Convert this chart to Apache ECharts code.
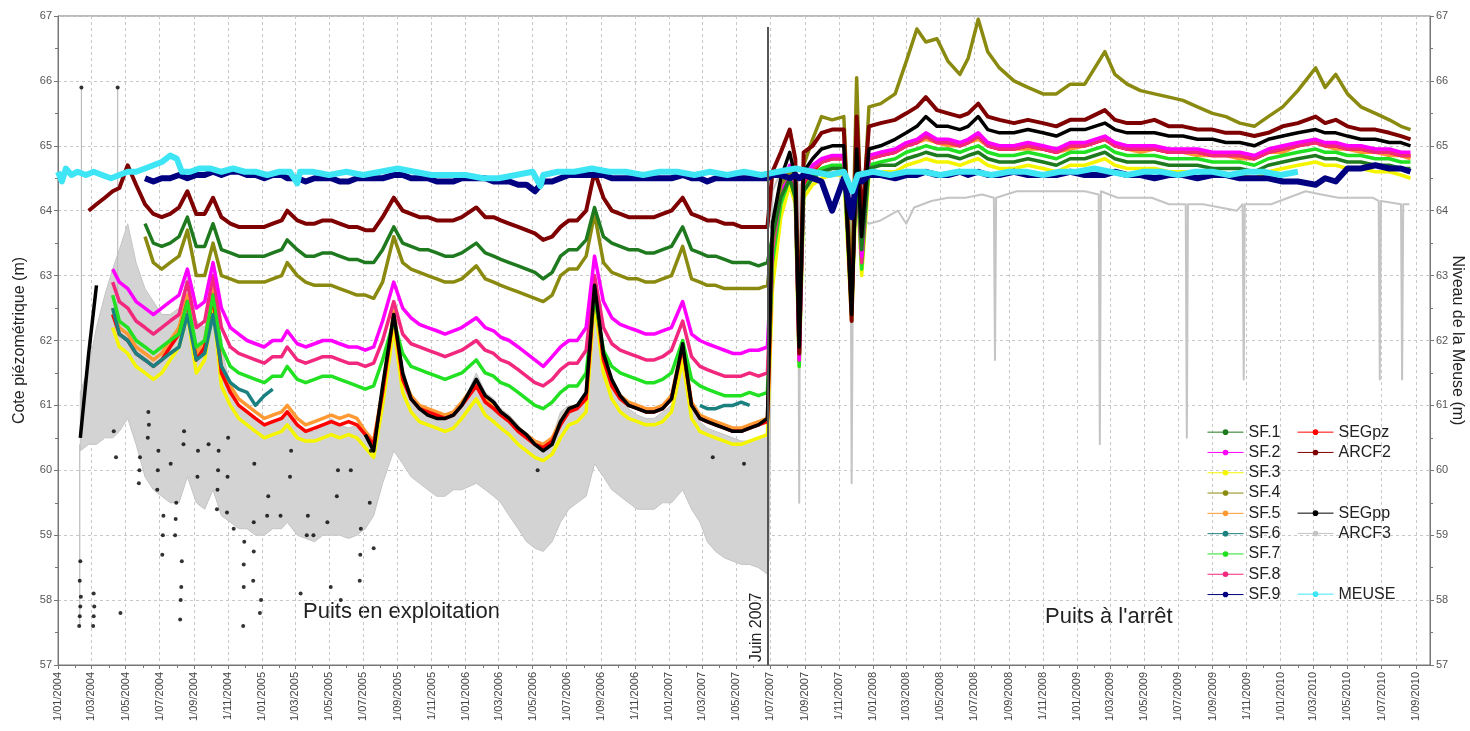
<!DOCTYPE html>
<html><head><meta charset="utf-8">
<script src="https://cdn.jsdelivr.net/npm/echarts@6/dist/echarts.min.js"></script>
<style>html,body{margin:0;padding:0;background:#fff}#chart{width:1470px;height:731px}</style>
</head><body><div id="chart"></div>
<script>
// ---------------- DATA ----------------
const X_START = '2004-01-01', X_END = '2010-09-26';
const Y_MIN = 57, Y_MAX = 67;
const JUNE_2007 = '2007-06-26', JUNE_LINE_TOP = 66.83;
const LEGEND_COL1 = ['SF.1','SF.2','SF.3','SF.4','SF.5','SF.6','SF.7','SF.8','SF.9'];
const LEGEND_COL2A = ['SEGpz','ARCF2'], LEGEND_COL2B = ['SEGpp','ARCF3'], LEGEND_COL2C = ['MEUSE'];
const TEXT_LEFT = 'Puits en exploitation', TEXT_RIGHT = "Puits à l'arrêt", LINE_LABEL = 'Juin 2007';

const P1_DATES = ['2004-02-10','2004-02-25','2004-03-10','2004-03-25','2004-04-08','2004-04-20','2004-05-05','2004-05-20','2004-06-05','2004-06-20',
'2004-07-05','2004-07-20','2004-08-05','2004-08-20','2004-09-05','2004-09-20','2004-10-05','2004-10-20','2004-11-05','2004-11-20',
'2004-12-05','2004-12-20','2005-01-05','2005-01-20','2005-02-05','2005-02-15','2005-03-05','2005-03-20','2005-04-05','2005-04-20',
'2005-05-05','2005-05-20','2005-06-05','2005-06-20','2005-07-05','2005-07-20','2005-08-05','2005-08-25','2005-09-10','2005-09-25',
'2005-10-10','2005-10-25','2005-11-10','2005-11-25','2005-12-10','2005-12-25','2006-01-20','2006-02-05','2006-02-20','2006-03-05',
'2006-03-20','2006-04-05','2006-04-20','2006-05-05','2006-05-20','2006-06-05','2006-06-20','2006-07-05','2006-07-20','2006-08-05',
'2006-08-20','2006-09-05','2006-09-20','2006-10-05','2006-10-20','2006-11-05','2006-11-20','2006-12-05','2006-12-20','2007-01-05',
'2007-01-25','2007-02-10','2007-02-25','2007-03-10','2007-03-25','2007-04-10','2007-04-25','2007-05-10','2007-05-25','2007-06-10','2007-06-26'];

const P2_DATES = ['2007-06-28','2007-07-05','2007-07-20','2007-08-05','2007-08-15','2007-08-22','2007-08-30','2007-09-15','2007-10-01','2007-10-20',
'2007-11-10','2007-11-24','2007-12-03','2007-12-12','2007-12-25','2008-01-15','2008-02-10','2008-03-01','2008-03-20','2008-04-05',
'2008-04-25','2008-05-15','2008-06-05','2008-06-20','2008-07-08','2008-07-25','2008-08-15','2008-09-10','2008-10-05','2008-11-01',
'2008-11-25','2008-12-20','2009-01-15','2009-02-20','2009-03-10','2009-04-01','2009-04-25','2009-05-20','2009-06-15','2009-07-10',
'2009-08-05','2009-09-01','2009-09-25','2009-10-20','2009-11-15','2009-12-10','2010-01-05','2010-02-01','2010-03-05','2010-03-22',
'2010-04-10','2010-05-01','2010-05-25','2010-06-20','2010-07-15','2010-08-05','2010-08-22'];

const SF1_P1 = [null,null,null,null,null,null,null,null,63.8,63.5,
63.45,63.5,63.6,63.9,63.45,63.45,63.8,63.4,63.35,63.3,
63.3,63.3,63.3,63.35,63.4,63.55,63.4,63.3,63.3,63.35,
63.35,63.3,63.25,63.25,63.2,63.2,63.4,63.75,63.5,63.45,
63.4,63.4,63.35,63.3,63.3,63.35,63.5,63.35,63.3,63.25,
63.2,63.15,63.1,63.05,62.95,63.05,63.3,63.4,63.4,63.55,
64.05,63.6,63.5,63.45,63.4,63.4,63.35,63.35,63.4,63.45,
63.75,63.4,63.35,63.3,63.3,63.25,63.2,63.2,63.2,63.15,63.2];
const SF1_P2 = [63.2,63.6,64.2,64.5,64.2,62.0,64.3,64.5,64.6,64.65,
64.65,62.7,64.65,63.4,64.65,64.7,64.7,64.8,64.85,64.9,
64.85,64.85,64.8,64.85,64.9,64.8,64.75,64.75,64.8,64.75,
64.7,64.8,64.8,64.9,64.8,64.75,64.75,64.75,64.7,64.7,
64.7,64.65,64.65,64.65,64.6,64.7,64.75,64.8,64.85,64.8,
64.8,64.75,64.75,64.7,64.7,64.65,64.65];

const SF2_P1 = [null,null,null,null,63.1,62.9,62.8,62.6,62.5,62.4,
62.5,62.6,62.7,63.1,62.5,62.6,63.2,62.5,62.2,62.1,
62.0,61.95,61.9,62.0,62.0,62.15,61.95,61.9,61.95,62.0,
62.0,61.95,61.9,61.9,61.85,61.9,62.3,62.9,62.5,62.35,
62.25,62.2,62.15,62.1,62.15,62.2,62.35,62.2,62.15,62.05,
62.0,61.9,61.8,61.7,61.6,61.75,61.9,62.0,62.0,62.2,
63.3,62.6,62.35,62.25,62.2,62.15,62.1,62.1,62.15,62.2,
62.6,62.1,62.0,61.95,61.9,61.85,61.8,61.8,61.85,61.85,61.9];
const SF2_P2 = [61.9,63.5,64.3,64.7,64.4,61.7,64.5,64.7,64.8,64.85,
64.85,62.6,64.85,63.3,64.85,64.9,64.95,65.05,65.1,65.2,
65.1,65.1,65.05,65.1,65.2,65.05,65.0,65.0,65.05,65.0,
64.95,65.05,65.05,65.15,65.05,65.0,65.0,65.0,64.95,64.95,
64.95,64.9,64.9,64.9,64.85,64.95,65.0,65.05,65.1,65.05,
65.05,65.0,65.0,64.95,64.95,64.9,64.9];

const SF3_P1 = [null,null,null,null,62.2,61.9,61.8,61.6,61.5,61.4,
61.5,61.7,61.9,62.4,61.5,61.7,62.5,61.3,61.0,60.8,
60.7,60.6,60.5,60.55,60.6,60.7,60.5,60.45,60.45,60.5,
60.55,60.5,60.55,60.5,60.35,60.2,61.0,62.2,61.2,60.9,
60.75,60.7,60.65,60.6,60.65,60.8,61.1,60.85,60.75,60.65,
60.55,60.4,60.3,60.2,60.15,60.25,60.5,60.7,60.75,60.9,
62.6,61.5,61.1,60.9,60.8,60.75,60.7,60.7,60.75,60.9,
61.7,60.8,60.6,60.55,60.5,60.45,60.4,60.4,60.45,60.5,60.55];
const SF3_P2 = [60.55,62.8,63.9,64.4,64.1,61.6,64.2,64.4,64.5,64.55,
64.55,62.3,64.55,63.0,64.55,64.6,64.6,64.7,64.75,64.8,
64.75,64.75,64.7,64.75,64.8,64.7,64.65,64.65,64.7,64.65,
64.6,64.7,64.7,64.8,64.7,64.65,64.65,64.65,64.6,64.6,
64.6,64.55,64.55,64.55,64.5,64.6,64.65,64.7,64.75,64.7,
64.7,64.65,64.65,64.6,64.6,64.55,64.5];

const SF4_P1 = [null,null,null,null,null,null,null,null,63.6,63.2,
63.1,63.2,63.3,63.7,63.0,63.0,63.5,63.0,62.95,62.9,
62.9,62.9,62.9,62.95,63.0,63.2,63.0,62.9,62.85,62.85,
62.85,62.8,62.75,62.7,62.7,62.65,62.9,63.6,63.2,63.1,
63.05,63.0,62.95,62.9,62.9,62.95,63.15,62.95,62.9,62.85,
62.8,62.75,62.7,62.65,62.6,62.7,63.0,63.1,63.1,63.3,
63.95,63.2,63.05,63.0,62.95,62.95,62.9,62.9,62.95,63.0,
63.45,62.95,62.9,62.85,62.85,62.8,62.8,62.8,62.8,62.8,62.85];
const SF4_P2 = [62.85,63.5,64.4,64.6,64.5,62.5,64.7,65.1,65.45,65.4,
65.45,62.8,66.05,63.5,65.6,65.65,65.8,66.3,66.8,66.6,
66.65,66.3,66.1,66.35,66.95,66.45,66.2,66.0,65.9,65.8,
65.8,65.95,65.95,66.45,66.1,65.95,65.85,65.8,65.75,65.7,
65.6,65.5,65.45,65.35,65.3,65.45,65.6,65.85,66.2,65.9,
66.1,65.8,65.6,65.5,65.4,65.3,65.25];

const SF5_P1 = [null,null,null,null,62.5,62.2,62.1,61.9,61.8,61.7,
61.8,62.0,62.2,62.7,61.8,62.0,62.8,61.6,61.3,61.1,
61.0,60.9,60.8,60.85,60.9,61.0,60.8,60.7,60.75,60.8,
60.85,60.8,60.85,60.8,60.6,60.45,61.25,62.45,61.45,61.15,
61.0,60.95,60.9,60.85,60.9,61.05,61.35,61.1,61.0,60.9,
60.8,60.65,60.55,60.45,60.4,60.5,60.75,60.95,61.0,61.15,
62.85,61.75,61.35,61.15,61.05,61.0,60.95,60.95,61.0,61.15,
61.95,61.05,60.85,60.8,60.75,60.7,60.65,60.65,60.7,60.75,60.8];
const SF5_P2 = [60.8,63.3,64.2,64.6,64.3,61.8,64.45,64.6,64.75,64.8,
64.85,62.5,64.8,63.3,64.8,64.85,64.9,65.0,65.05,65.1,
65.05,65.0,65.0,65.05,65.1,65.0,64.95,64.95,64.95,64.95,
64.9,64.95,65.0,65.1,65.0,64.95,64.9,64.95,64.9,64.9,
64.85,64.85,64.85,64.8,64.8,64.9,64.9,65.0,65.05,65.0,
64.95,64.95,64.9,64.9,64.85,64.85,64.8];

const SF6_P1 = [null,null,null,null,62.5,62.1,62.0,61.8,61.7,61.6,
61.7,61.8,61.9,62.4,61.7,61.8,62.4,61.6,61.35,61.25,
61.2,61.0,61.15,61.25,null,null,null,null,null,null,
null,null,null,null,null,null,null,null,null,null,
null,null,null,null,null,null,null,null,null,null,
null,null,null,null,null,null,null,null,null,null,
null,null,null,null,null,null,null,null,null,null,
null,null,61.0,60.95,60.95,61.0,61.0,61.05,61.0,null,null];

const SF7_P1 = [null,null,null,null,62.7,62.3,62.2,62.0,61.9,61.8,
61.9,62.0,62.1,62.6,61.9,62.0,62.7,61.9,61.6,61.5,
61.45,61.4,61.35,61.45,61.45,61.6,61.4,61.35,61.4,61.45,
61.45,61.4,61.35,61.3,61.25,61.3,61.7,62.3,61.8,61.6,
61.55,61.5,61.45,61.4,61.45,61.5,61.7,61.5,61.45,61.35,
61.3,61.2,61.1,61.0,60.95,61.05,61.2,61.3,61.3,61.5,
62.7,61.85,61.6,61.5,61.45,61.4,61.35,61.35,61.4,61.5,
62.0,61.4,61.3,61.25,61.2,61.15,61.15,61.15,61.2,61.15,61.2];
const SF7_P2 = [61.2,63.2,64.1,64.5,64.2,61.6,64.3,64.55,64.65,64.7,
64.7,62.4,64.7,63.1,64.7,64.75,64.8,64.9,64.95,65.0,
64.95,64.95,64.9,64.95,65.0,64.9,64.85,64.85,64.9,64.85,
64.8,64.9,64.9,65.0,64.9,64.85,64.85,64.85,64.8,64.8,
64.8,64.75,64.75,64.75,64.7,64.8,64.85,64.9,64.95,64.9,
64.9,64.85,64.85,64.8,64.8,64.75,64.75];

const SF8_P1 = [null,null,null,null,62.9,62.6,62.5,62.3,62.2,62.1,
62.2,62.3,62.4,62.9,62.2,62.3,63.0,62.2,61.9,61.8,
61.75,61.7,61.65,61.75,61.75,61.9,61.7,61.65,61.7,61.75,
61.75,61.7,61.65,61.65,61.6,61.65,62.0,62.6,62.1,61.95,
61.9,61.85,61.8,61.75,61.8,61.85,62.0,61.85,61.8,61.7,
61.65,61.55,61.45,61.35,61.3,61.4,61.55,61.65,61.65,61.85,
63.0,62.2,61.95,61.85,61.8,61.75,61.7,61.7,61.75,61.85,
62.3,61.75,61.6,61.55,61.5,61.45,61.45,61.45,61.5,61.45,61.5];
const SF8_P2 = [61.5,63.4,64.25,64.65,64.35,61.7,64.45,64.65,64.75,64.8,
64.8,62.5,64.8,63.2,64.8,64.85,64.9,65.0,65.05,65.15,
65.05,65.05,65.0,65.05,65.15,65.0,64.95,64.95,65.0,64.95,
64.9,65.0,65.0,65.1,65.0,64.95,64.95,64.95,64.9,64.9,
64.9,64.85,64.85,64.85,64.8,64.9,64.95,65.0,65.05,65.0,
65.0,64.95,64.95,64.9,64.9,64.85,64.85];

const SF9_P1 = [null,null,null,null,null,null,null,null,64.5,64.45,
64.5,64.5,64.55,64.5,64.55,64.55,64.6,64.55,64.6,64.6,
64.55,64.55,64.5,64.55,64.55,64.5,64.5,64.45,64.5,64.5,
64.5,64.45,64.45,64.5,64.5,64.5,64.5,64.55,64.55,64.5,
64.5,64.5,64.45,64.45,64.45,64.5,64.5,64.5,64.45,64.45,
64.45,64.4,64.4,64.3,64.45,64.45,64.5,64.55,64.55,64.55,
64.55,64.55,64.5,64.5,64.5,64.5,64.5,64.5,64.5,64.5,
64.55,64.5,64.5,64.45,64.5,64.5,64.5,64.5,64.5,64.5,64.5];
const SF9_P2 = [64.5,64.55,64.55,64.5,64.55,64.5,64.55,64.5,64.45,64.0,
64.5,63.9,64.5,64.45,64.55,64.55,64.5,64.55,64.55,64.6,
64.55,64.55,64.6,64.55,64.6,64.55,64.55,64.6,64.55,64.55,
64.55,64.6,64.55,64.55,64.6,64.55,64.55,64.5,64.55,64.55,
64.5,64.55,64.55,64.5,64.5,64.5,64.45,64.45,64.4,64.5,
64.45,64.65,64.65,64.7,64.65,64.65,64.6];

const SEGPZ_P1 = [60.7,null,null,null,62.4,62.1,62.0,61.8,61.7,61.6,
61.7,61.9,62.1,62.6,61.7,61.9,62.7,61.5,61.2,61.0,
60.9,60.8,60.7,60.75,60.8,60.9,60.7,60.6,60.65,60.7,
60.75,60.7,60.75,60.7,60.55,60.4,61.2,62.4,61.4,61.1,
60.95,60.9,60.85,60.8,60.85,61.0,61.3,61.05,60.95,60.85,
60.75,60.6,60.5,60.4,60.35,60.45,60.7,60.9,60.95,61.1,
62.8,61.7,61.3,61.1,61.0,60.95,60.9,60.9,60.95,61.1,
61.9,61.0,60.8,60.75,60.7,60.65,60.6,60.6,60.65,60.7,60.75];
const SEGPZ_P2 = [60.75,63.3,64.2,64.6,64.3,61.8,64.4,64.6,64.75,64.8,
64.8,62.5,64.8,63.3,64.8,64.85,64.9,65.0,65.05,65.15,
65.05,65.05,65.0,65.05,65.15,65.0,64.95,64.95,65.0,64.95,
64.9,65.0,65.0,65.1,65.0,64.95,64.95,64.95,64.9,64.9,
64.9,64.85,64.85,64.85,64.8,64.9,64.95,65.0,65.05,65.0,
65.0,64.95,64.95,64.9,64.9,64.85,64.85];

const ARCF2_P1 = [null,64.0,64.1,64.2,64.3,64.35,64.7,64.4,64.1,63.95,
63.9,63.95,64.05,64.3,63.95,63.95,64.2,63.9,63.8,63.75,
63.75,63.75,63.75,63.8,63.85,64.0,63.85,63.8,63.8,63.85,
63.85,63.8,63.75,63.75,63.7,63.7,63.9,64.2,64.0,63.95,
63.9,63.9,63.85,63.85,63.85,63.9,64.05,63.9,63.9,63.85,
63.8,63.75,63.7,63.65,63.55,63.6,63.75,63.85,63.85,64.0,
64.6,64.2,64.0,63.95,63.9,63.9,63.9,63.9,63.95,64.0,
64.2,63.95,63.9,63.85,63.85,63.8,63.8,63.75,63.75,63.75,63.75];
const ARCF2_P2 = [63.75,64.6,64.9,65.25,64.8,61.8,64.9,65.0,65.2,65.25,
65.25,62.3,65.45,63.8,65.3,65.35,65.4,65.5,65.6,65.75,
65.55,65.5,65.45,65.5,65.65,65.45,65.4,65.35,65.4,65.35,
65.3,65.4,65.4,65.55,65.4,65.35,65.35,65.4,65.3,65.3,
65.25,65.25,65.2,65.2,65.15,65.2,65.3,65.35,65.45,65.35,
65.4,65.3,65.25,65.25,65.2,65.15,65.1];

const SEGPP_P1 = [60.5,61.8,62.85,null,null,null,null,null,null,null,
null,null,null,null,null,null,null,null,null,null,
null,null,null,null,null,null,null,null,null,null,
null,null,null,null,60.55,60.3,61.3,62.4,61.5,61.1,
60.95,60.85,60.8,60.8,60.85,61.0,61.4,61.15,61.05,60.9,
60.8,60.65,60.55,60.4,60.3,60.4,60.75,60.95,61.0,61.2,
62.85,61.8,61.4,61.15,61.0,60.95,60.9,60.9,60.95,61.1,
61.95,61.0,60.8,60.75,60.7,60.65,60.6,60.6,60.65,60.7,60.8];
const SEGPP_P2 = [60.8,63.8,64.5,64.9,64.5,61.9,64.6,64.8,64.95,65.0,
65.0,62.4,64.95,63.6,64.95,65.0,65.1,65.2,65.3,65.45,
65.3,65.3,65.25,65.3,65.45,65.25,65.2,65.2,65.25,65.2,
65.15,65.25,65.25,65.35,65.25,65.2,65.2,65.2,65.15,65.15,
65.1,65.1,65.05,65.05,65.0,65.1,65.15,65.2,65.25,65.2,
65.2,65.15,65.1,65.1,65.05,65.05,65.0];
const SEGPP_DOTS = [['2004-02-08',57.6],['2004-02-09',57.75],['2004-02-10',57.9],['2004-02-11',58.05],['2004-02-09',58.3],['2004-02-10',58.6],['2004-02-12',65.9],
['2004-03-04',57.6],['2004-03-05',57.75],['2004-03-06',57.9],['2004-03-05',58.1],['2004-04-17',65.9],['2004-04-22',57.8],['2004-04-10',60.6],['2004-04-14',60.2],
['2004-05-25',59.8],['2004-05-26',60.0],['2004-05-27',60.2],['2004-06-10',60.5],['2004-06-11',60.9],['2004-06-12',60.7],['2004-06-27',59.7],['2004-06-28',60.0],['2004-06-29',60.3],
['2004-07-06',58.7],['2004-07-07',59.0],['2004-07-08',59.3],['2004-07-21',60.1],['2004-07-29',59.0],['2004-07-30',59.25],['2004-07-31',59.5],
['2004-08-07',57.7],['2004-08-08',58.0],['2004-08-09',58.2],['2004-08-10',58.6],['2004-08-13',60.4],['2004-08-14',60.6],
['2004-09-07',59.9],['2004-09-08',60.3],['2004-09-27',60.4],['2004-10-12',59.4],['2004-10-13',59.7],['2004-10-14',60.0],['2004-10-15',60.3],
['2004-10-30',59.35],['2004-10-31',59.9],['2004-11-01',60.5],['2004-11-11',59.1],['2004-11-28',57.6],['2004-11-29',58.2],['2004-11-30',58.9],['2004-11-29',58.55],
['2004-12-16',58.3],['2004-12-17',59.2],['2004-12-18',60.1],['2004-12-17',58.75],['2004-12-28',57.8],['2004-12-30',58.0],
['2005-01-10',59.3],['2005-01-12',59.6],['2005-02-03',59.3],['2005-02-20',59.9],['2005-02-22',60.3],['2005-03-11',58.1],
['2005-03-22',59.0],['2005-03-24',59.3],['2005-04-03',59.0],['2005-04-28',59.2],['2005-05-04',58.2],['2005-05-15',59.6],
['2005-05-17',60.0],['2005-05-22',58.0],['2005-06-09',60.0],['2005-06-25',58.3],['2005-06-27',59.1],['2005-06-26',58.7],['2005-07-13',59.5],
['2005-07-15',60.3],['2005-07-20',58.8],['2006-05-10',60.0],['2007-03-20',60.2],['2007-05-15',60.1]];

const ARCF3_HIGH_P1 = [61.2,61.6,62.2,62.7,63.1,63.4,63.8,63.2,62.8,62.6,
62.4,62.4,62.5,63.0,62.3,62.2,63.0,61.9,61.3,61.0,
60.9,60.8,60.7,60.75,60.8,60.9,60.7,60.6,60.6,60.7,
60.8,60.7,60.65,60.7,60.5,60.3,61.2,62.6,61.6,61.1,
60.95,60.85,60.8,60.8,60.9,61.0,61.5,61.2,61.1,60.95,
60.85,60.7,60.5,60.4,60.3,60.5,60.9,61.0,61.0,61.2,
62.8,61.7,61.3,61.1,60.95,60.85,60.8,60.8,60.9,61.0,
61.9,60.95,60.75,60.65,60.6,60.55,60.5,60.45,60.45,60.5,60.5];
const ARCF3_LOW_P1 = [60.3,60.4,60.4,60.5,60.5,60.6,60.8,60.4,59.9,59.7,
59.6,59.5,59.5,59.9,59.5,59.4,59.7,59.3,59.2,59.1,
59.1,59.0,59.0,59.1,59.1,59.2,59.0,58.95,58.9,59.0,
59.0,59.0,58.95,59.0,59.1,59.3,59.8,60.3,60.1,59.9,
59.8,59.7,59.6,59.6,59.7,59.7,59.8,59.7,59.6,59.5,
59.3,59.1,58.9,58.8,58.75,58.9,59.2,59.4,59.5,59.6,
60.1,59.9,59.7,59.6,59.5,59.4,59.4,59.4,59.5,59.5,
59.7,59.4,59.2,58.9,58.75,58.65,58.6,58.55,58.55,58.5,58.4];
const ARCF3_SPIKES_P1 = [['2004-02-09',60.4],['2004-02-09',57.6],['2004-02-10',null],['2004-02-12',61.0],['2004-02-12',65.9],['2004-02-13',null],
['2004-04-17',62.0],['2004-04-17',65.9]];
const ARCF3_P2 = [['2007-06-28',58.6],['2007-07-05',64.3],['2007-07-20',64.6],['2007-08-05',64.6],['2007-08-20',64.5],['2007-08-22',59.5],['2007-08-24',64.4],
['2007-09-15',64.6],['2007-10-15',64.6],['2007-11-10',64.5],['2007-11-22',64.4],['2007-11-24',59.8],['2007-11-27',64.2],['2007-12-12',63.9],
['2007-12-25',63.8],['2008-01-15',63.85],['2008-02-15',64.0],['2008-03-01',63.8],['2008-03-15',64.05],['2008-04-15',64.15],['2008-05-15',64.2],
['2008-06-15',64.2],['2008-07-15',64.25],['2008-08-05',64.2],['2008-08-07',61.7],['2008-08-09',64.2],['2008-09-15',64.3],['2008-10-15',64.3],
['2008-11-15',64.3],['2008-12-15',64.3],['2009-01-15',64.3],['2009-02-09',64.25],['2009-02-11',60.4],['2009-02-13',64.3],['2009-03-15',64.2],
['2009-04-15',64.2],['2009-05-15',64.2],['2009-06-15',64.1],['2009-07-15',64.1],['2009-07-17',60.5],['2009-07-19',64.1],['2009-08-15',64.1],
['2009-09-15',64.05],['2009-10-15',64.0],['2009-10-25',64.1],['2009-10-27',61.4],['2009-10-29',64.1],['2009-12-15',64.1],['2010-01-15',64.2],
['2010-02-15',64.3],['2010-03-15',64.25],['2010-04-15',64.2],['2010-05-15',64.2],['2010-06-15',64.2],['2010-06-26',64.15],['2010-06-28',61.4],
['2010-06-30',64.15],['2010-08-05',64.1],['2010-08-07',61.4],['2010-08-09',64.1],['2010-08-20',64.1]];

const MEUSE = [['2004-01-01',64.6],['2004-01-08',64.45],['2004-01-15',64.65],['2004-01-25',64.55],['2004-02-05',64.6],['2004-02-20',64.55],
['2004-03-05',64.6],['2004-03-20',64.55],['2004-04-05',64.5],['2004-04-20',64.55],['2004-05-05',64.6],['2004-05-20',64.6],['2004-06-05',64.65],
['2004-06-20',64.7],['2004-07-05',64.75],['2004-07-20',64.85],['2004-08-01',64.8],['2004-08-10',64.6],['2004-08-25',64.6],['2004-09-10',64.65],
['2004-10-01',64.65],['2004-10-20',64.6],['2004-11-10',64.65],['2004-12-01',64.6],['2004-12-20',64.6],['2005-01-10',64.55],['2005-02-01',64.6],
['2005-02-20',64.6],['2005-03-05',64.42],['2005-03-10',64.6],['2005-04-01',64.6],['2005-05-01',64.55],['2005-06-01',64.6],['2005-07-01',64.55],
['2005-08-01',64.6],['2005-09-01',64.65],['2005-10-01',64.6],['2005-11-01',64.55],['2005-12-01',64.55],['2006-01-01',64.55],['2006-02-01',64.5],
['2006-03-01',64.5],['2006-04-01',64.55],['2006-05-01',64.6],['2006-05-15',64.38],['2006-05-20',64.55],['2006-06-15',64.6],['2006-07-15',64.6],
['2006-08-15',64.65],['2006-09-15',64.6],['2006-10-15',64.6],['2006-11-15',64.55],['2006-12-15',64.6],['2007-01-15',64.6],['2007-02-15',64.55],
['2007-03-15',64.6],['2007-04-15',64.55],['2007-05-15',64.6],['2007-06-15',64.55],['2007-07-15',64.6],['2007-08-15',64.65],['2007-09-15',64.6],
['2007-10-15',64.55],['2007-11-10',64.6],['2007-11-25',64.3],['2007-12-05',64.55],['2008-01-01',64.6],['2008-02-01',64.55],['2008-03-01',64.6],
['2008-04-01',64.6],['2008-05-01',64.55],['2008-06-01',64.6],['2008-07-01',64.6],['2008-08-01',64.55],['2008-09-01',64.6],['2008-10-01',64.6],
['2008-11-01',64.55],['2008-12-01',64.6],['2009-01-01',64.6],['2009-02-01',64.65],['2009-03-01',64.6],['2009-04-01',64.55],['2009-05-01',64.6],
['2009-06-01',64.6],['2009-07-01',64.55],['2009-08-01',64.6],['2009-09-01',64.6],['2009-10-01',64.55],['2009-11-01',64.6],['2009-12-01',64.6],
['2010-01-01',64.55],['2010-02-01',64.6]];

// ---------------- BUILD ----------------
function toTime(s){ const p = s.split('-').map(Number); return new Date(p[0], p[1]-1, p[2]).getTime(); }
function join(a, b){
  const out = [];
  P1_DATES.forEach((d,i)=>out.push([toTime(d), a && a[i] != null ? a[i] : null]));
  P2_DATES.forEach((d,i)=>out.push([toTime(d), b && b[i] != null ? b[i] : null]));
  return out;
}
function pairs(list){ return list.map(p=>[toTime(p[0]), p[1]]); }

const majorTicks = [], minorTicks = [];
const xEnd = toTime(X_END);
for (let y = 2004; y <= 2010; y++) for (let m = 0; m < 12; m++) {
  const t = new Date(y, m, 1).getTime();
  if (t > xEnd) break;
  minorTicks.push(t);
  if (m % 2 === 0) majorTicks.push(t);
}
const fmt = v => { const d = new Date(v); return d.getDate() + '/' + String(d.getMonth()+1).padStart(2,'0') + '/' + d.getFullYear(); };

const FONT = '"Liberation Sans", Arial, sans-serif';
function line(name, color, data, width){
  return { name, type:'line', data, symbol:'circle', symbolSize:4, showSymbol:false, connectNulls:false,
    lineStyle:{color, width, join:'round'}, itemStyle:{color}, emphasis:{disabled:true}, silent:true, z:2 };
}

const series = [
  line('ARCF3', '#c4c4c4', pairs(ARCF3_P2), 2),
  line('ARCF3', '#bdbdbd', pairs(ARCF3_SPIKES_P1), 1.2),
  { name:'ARCF3', type:'custom', silent:true, z:1, data:[[toTime(X_START), Y_MIN]],
    itemStyle:{color:'#c4c4c4'},
    renderItem: function (params, api) {
      const pts = [];
      for (let i = 0; i < P1_DATES.length; i++) pts.push(api.coord([toTime(P1_DATES[i]), ARCF3_HIGH_P1[i]]));
      for (let i = P1_DATES.length - 1; i >= 0; i--) pts.push(api.coord([toTime(P1_DATES[i]), ARCF3_LOW_P1[i]]));
      return { type:'polygon', shape:{points:pts}, style:{fill:'#d3d3d3', stroke:'#c4c4c4', lineWidth:1} };
    } },
  line('SF.3', '#f5f500', join(SF3_P1, SF3_P2), 3.5),
  line('SF.5', '#ff9933', join(SF5_P1, SF5_P2), 3.5),
  line('SEGpz', '#ff0000', join(SEGPZ_P1, SEGPZ_P2), 3.5),
  line('SF.6', '#1a8080', join(SF6_P1, null), 3.5),
  line('SF.7', '#22e022', join(SF7_P1, SF7_P2), 3.5),
  line('SF.8', '#f2287e', join(SF8_P1, SF8_P2), 3.5),
  line('SF.2', '#ff00ff', join(SF2_P1, SF2_P2), 3.5),
  line('SF.4', '#8a8a10', join(SF4_P1, SF4_P2), 3.5),
  line('SF.1', '#1f7a1f', join(SF1_P1, SF1_P2), 3.5),
  line('ARCF2', '#7f0000', join(ARCF2_P1, ARCF2_P2), 4),
  Object.assign(line('SEGpp', '#000000', join(SEGPP_P1, SEGPP_P2), 3.5), {
    markLine: { silent:true, symbol:['none','none'], animation:false, emphasis:{disabled:true},
      lineStyle:{color:'#555', width:2, type:'solid'},
      label:{show:true, position:'insideStartTop', formatter:LINE_LABEL, fontSize:16, color:'#222', fontFamily:FONT, distance:3},
      data:[[{coord:[toTime(JUNE_2007), Y_MIN]}, {coord:[toTime(JUNE_2007), JUNE_LINE_TOP]}]] } }),
  { name:'SEGpp', type:'scatter', data: pairs(SEGPP_DOTS), symbol:'circle', symbolSize:4, itemStyle:{color:'#000'}, silent:true, emphasis:{disabled:true}, z:3 },
  line('SF.9', '#000080', join(SF9_P1, SF9_P2), 6),
  line('MEUSE', '#3ee6f5', pairs(MEUSE), 6)
];

const legendBase = { orient:'vertical', selectedMode:false, itemWidth:36, itemHeight:7, itemGap:4,
  textStyle:{fontSize:16, color:'#222', fontFamily:FONT, lineHeight:16.3}, lineStyle:{width:1}, padding:0 };

const option = {
  animation:false,
  textStyle:{fontFamily:FONT},
  grid:{left:58, right:40, top:16, bottom:66, show:true, borderColor:'#777', borderWidth:1, outerBoundsMode:'none'},
  xAxis:[{
    type:'value', min:toTime(X_START), max:xEnd, scale:true,
    axisLine:{show:true, lineStyle:{color:'#777'}},
    axisTick:{show:true, customValues:majorTicks, length:4, lineStyle:{color:'#777'}},
    axisLabel:{customValues:majorTicks, rotate:90, fontSize:11, color:'#444', margin:7, formatter:fmt, hideOverlap:false, showMinLabel:true, showMaxLabel:true},
    splitLine:{show:true, lineStyle:{color:'#c8c8c8', type:[3,3]}}
  },{
    type:'value', min:toTime(X_START), max:xEnd, scale:true, position:'bottom',
    axisLine:{show:false}, axisTick:{show:true, customValues:minorTicks, length:3, lineStyle:{color:'#777'}},
    axisLabel:{show:false}, splitLine:{show:false}
  }],
  yAxis:[{
    type:'value', min:Y_MIN, max:Y_MAX, interval:1, position:'left',
    name:'Cote piézométrique (m)', nameLocation:'middle', nameGap:30, nameRotate:90, nameMoveOverlap:false,
    nameTextStyle:{fontSize:16, color:'#222', fontFamily:FONT},
    axisLine:{show:true, lineStyle:{color:'#777'}}, axisTick:{show:true, length:4, lineStyle:{color:'#777'}},
    minorTick:{show:true, splitNumber:2, length:3, lineStyle:{color:'#777'}},
    axisLabel:{fontSize:11, color:'#555', margin:6},
    splitLine:{show:true, lineStyle:{color:'#c8c8c8', type:[3,3]}}
  },{
    type:'value', min:Y_MIN, max:Y_MAX, interval:1, position:'right',
    name:'Niveau de la Meuse (m)', nameLocation:'middle', nameGap:19, nameRotate:-90, nameMoveOverlap:false,
    nameTextStyle:{fontSize:16, color:'#222', fontFamily:FONT},
    axisLine:{show:true, lineStyle:{color:'#777'}}, axisTick:{show:true, length:4, lineStyle:{color:'#777'}},
    minorTick:{show:true, splitNumber:2, length:3, lineStyle:{color:'#777'}},
    axisLabel:{fontSize:11, color:'#555', margin:6},
    splitLine:{show:false}
  }],
  legend:[
    Object.assign({}, legendBase, {left:1207, top:424, data:LEGEND_COL1}),
    Object.assign({}, legendBase, {left:1297, top:424, data:LEGEND_COL2A}),
    Object.assign({}, legendBase, {left:1297, top:505, data:LEGEND_COL2B}),
    Object.assign({}, legendBase, {left:1297, top:586, data:LEGEND_COL2C})
  ],
  graphic:[
    {type:'text', left:303, top:601, silent:true, style:{text:TEXT_LEFT, font:'22px ' + FONT, fill:'#222'}},
    {type:'text', left:1045, top:606, silent:true, style:{text:TEXT_RIGHT, font:'22px ' + FONT, fill:'#222'}}
  ],
  series
};

const chart = echarts.init(document.getElementById('chart'), null, {renderer:'canvas'});
chart.setOption(option);
</script></body></html>
